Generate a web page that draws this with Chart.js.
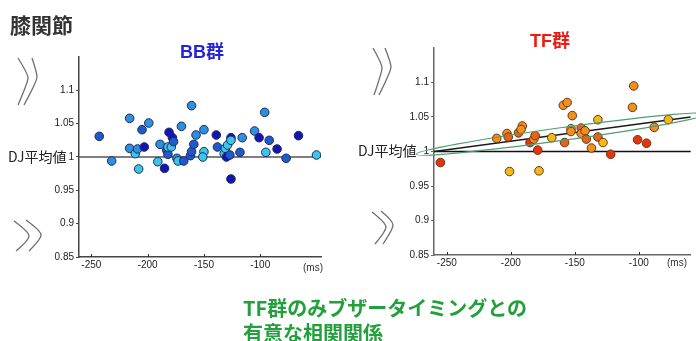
<!DOCTYPE html>
<html>
<head>
<meta charset="utf-8">
<script src="https://cdn.jsdelivr.net/npm/chart.js@4.4.1/dist/chart.umd.min.js"></script>
<style>
body{margin:0;background:#fff;width:696px;height:341px;overflow:hidden;position:relative;font-family:"Noto Sans CJK JP",sans-serif;}
canvas{position:absolute;}
.t{position:absolute;white-space:nowrap;line-height:1;}
.lat{font-family:"Liberation Sans","Noto Sans CJK JP",sans-serif;}
</style>
</head>
<body>
<canvas id="deco" width="696" height="341" style="left:0;top:0"></canvas>
<canvas id="bbCanvas" width="330" height="240" style="left:0;top:40px"></canvas>
<canvas id="tfCanvas" width="356" height="250" style="left:340px;top:30px"></canvas>

<div class="t" style="left:10px;top:14px;font-size:21px;font-weight:bold;color:#333">膝関節</div>
<div class="t lat" style="left:180px;top:43px;font-size:18px;font-weight:bold;color:#2424d8">BB群</div>
<div class="t lat" style="left:530px;top:32px;font-size:18px;font-weight:bold;color:#ee1a12">TF群</div>
<div class="t" style="left:8px;top:149px;font-size:14px;color:#222">DJ平均値</div>
<div class="t" style="left:358px;top:143px;font-size:14px;color:#222">DJ平均値</div>
<div class="t lat" style="left:303px;top:263px;font-size:10px;color:#333">(ms)</div>
<div class="t lat" style="left:667px;top:258px;font-size:10px;color:#333">(ms)</div>
<div class="t" style="left:243px;top:295px;font-size:20px;line-height:25px;font-weight:bold;color:#22a03c">TF群のみブザータイミングとの<br>有意な相関関係</div>

<script>
// BB群 (ms, DJ平均値)
var bbX = [-243,-232,-216,-216,-211,-209,-208,-205,-203,-199,-191,-189,-185,-183,-182,-182,-181,-179,-178,-177,-174,-173,-170,-168,-162,-161,-161,-159,-157,-150,-150,-151,-139,-138,-132,-131,-130,-129,-127,-126,-126,-126,-118,-116,-105,-101,-96,-95,-92,-85,-77,-66,-50];
var bbY = [1.031,0.994,1.058,1.013,1.005,1.012,0.982,1.041,1.015,1.051,0.993,1.019,0.983,1.010,1.004,1.015,1.037,1.015,1.029,1.023,0.998,0.994,1.046,0.994,1.002,1.008,1.077,1.019,1.033,1.041,1.008,1.000,1.033,1.015,1.005,1.013,1.000,1.018,1.003,1.029,1.025,0.967,1.007,1.029,1.039,1.029,1.067,1.007,1.025,1.012,0.998,1.032,1.003];

// TF群
var tfX = [-255,-211,-203,-202,-201,-194,-191,-192,-185,-182,-181,-179,-178,-168,-159,-156,-158,-152,-153,-153,-145,-145,-142,-141,-137,-132,-132,-128,-122,-104,-105,-101,-94,-88,-77];
var tfY = [0.984,1.019,1.026,1.021,0.971,1.027,1.037,1.032,1.013,1.018,1.023,1.002,0.972,1.020,1.067,1.071,1.013,1.052,1.033,1.029,1.034,1.026,1.030,1.018,1.005,1.046,1.021,1.013,0.996,1.095,1.064,1.017,1.012,1.035,1.046];

// TF regression line and its ellipse (tips + half width, in data units)
var tfFitX = [-260, -59.5];
var tfFitY = [1.0, 1.05];
var tfEllTips = [[-274, 0.996], [-47, 1.0545]];
var tfEllHalf = 0.0093;

var xTicks = [-250, -200, -150, -100];
var yTicks = [0.85, 0.9, 0.95, 1, 1.05, 1.1];
var yTickLabels = ['0.85', '0.9', '0.95', '1', '1.05', '1.1'];

// point shades (style only)
var bbShade = ['m','l','l','l','c','l','c','m','d','l','c','l','d','m','m','c','d','c','d','m','l','c','l','m','m','m','l','m','l','l','c','c','d','m','c','c','d','c','m','d','c','d','m','l','l','d','l','c','m','d','m','d','c'];
var tfShade = ['r','o','o','ro','y','ro','o','o','r','o','ro','r','y','y','o','o','ro','o','y','o','ro','o','o','ro','o','y','ro','y','r','o','o','r','r','o','y'];
var bbPal = {d: '#1414b2', m: '#1f5acc', l: '#2d8fde', c: '#3cc6e6'};
var tfPal = {r: '#e5340e', ro: '#e8621a', o: '#ef9120', y: '#f2ba18'};

function pts(xs, ys) {
	var out = [];
	for (var i in xs) out.push({x: xs[i], y: ys[i]});
	return out;
}

var extras = {
	id: 'extras',
	beforeDatasetsDraw: function(chart, args, opts) {
		var ctx = chart.ctx, xs = chart.scales.x, ys = chart.scales.y, a = chart.chartArea;
		ctx.save();
		var py = ys.getPixelForValue(1);
		ctx.strokeStyle = opts.refColor;
		ctx.lineWidth = 1.3;
		ctx.beginPath();
		ctx.moveTo(a.left, py);
		ctx.lineTo(a.right, py);
		ctx.stroke();

		// small tick marks pointing inward
		ctx.strokeStyle = '#333';
		ctx.lineWidth = 1;
		xTicks.forEach(function(v) {
			var px = Math.round(xs.getPixelForValue(v)) + 0.5;
			ctx.beginPath();
			ctx.moveTo(px, a.bottom);
			ctx.lineTo(px, a.bottom - 3);
			ctx.stroke();
		});
		ctx.restore();
	},
	afterDatasetsDraw: function(chart, args, opts) {
		if (!opts.ellipse) return;
		var ctx = chart.ctx, xs = chart.scales.x, ys = chart.scales.y;
		var p1x = xs.getPixelForValue(tfEllTips[0][0]), p1y = ys.getPixelForValue(tfEllTips[0][1]);
		var p2x = xs.getPixelForValue(tfEllTips[1][0]), p2y = ys.getPixelForValue(tfEllTips[1][1]);
		var rx = Math.hypot(p2x - p1x, p2y - p1y) / 2;
		var ry = Math.abs(ys.getPixelForValue(1) - ys.getPixelForValue(1 + tfEllHalf));
		ctx.save();
		ctx.strokeStyle = '#4f9e6e';
		ctx.lineWidth = 1.2;
		ctx.beginPath();
		ctx.ellipse((p1x + p2x) / 2, (p1y + p2y) / 2, rx, ry, Math.atan2(p2y - p1y, p2x - p1x), 0, Math.PI * 2);
		ctx.stroke();
		ctx.restore();
	}
};

function axes(xMin, xMax, axisColor, yWidth, xHeight) {
	return {
		x: {
			type: 'linear', min: xMin, max: xMax,
			afterBuildTicks: function(s) { s.ticks = xTicks.map(function(v) { return {value: v}; }); },
			afterFit: function(s) { s.height = xHeight; },
			grid: {display: false, drawTicks: false},
			border: {color: axisColor, width: 1.5},
			ticks: {color: '#222', font: {family: 'Liberation Sans', size: 10}, padding: 2, maxRotation: 0, autoSkip: false,
				callback: function(v) { return String(v); }}
		},
		y: {
			type: 'linear', min: 0.85, max: 1.15,
			afterBuildTicks: function(s) { s.ticks = yTicks.map(function(v) { return {value: v}; }); },
			afterFit: function(s) { s.width = yWidth; },
			grid: {display: true, drawOnChartArea: false, tickLength: 3, color: axisColor},
			border: {color: axisColor, width: 1.5},
			ticks: {color: '#222', font: {family: 'Liberation Sans', size: 10}, padding: 2, autoSkip: false,
				callback: function(v, i) { return yTickLabels[i]; }}
		}
	};
}

var bbChart = new Chart(document.getElementById('bbCanvas'), {
	type: 'scatter',
	data: {
		datasets: [{
			label: 'BB群',
			data: pts(bbX, bbY),
			pointRadius: 4.3,
			pointBorderWidth: 1,
			pointBackgroundColor: bbShade.map(function(s) { return bbPal[s]; }),
			pointBorderColor: '#1c2a5e'
		}]
	},
	options: {
		responsive: false, animation: false, devicePixelRatio: 1,
		layout: {padding: {top: 17, right: 9, bottom: 0, left: 0}},
		scales: axes(-261, -46, '#444', 79, 23),
		plugins: {legend: {display: false}, tooltip: {enabled: false}, extras: {refColor: '#555', ellipse: false}}
	},
	plugins: [extras]
});

var tfChart = new Chart(document.getElementById('tfCanvas'), {
	type: 'scatter',
	data: {
		datasets: [{
			label: 'TF群',
			data: pts(tfX, tfY),
			order: 0,
			pointRadius: 4.3,
			pointBorderWidth: 1,
			pointBackgroundColor: tfShade.map(function(s) { return tfPal[s]; }),
			pointBorderColor: '#6a3410'
		}, {
			label: 'fit',
			data: pts(tfFitX, tfFitY),
			order: 1,
			showLine: true,
			borderColor: '#1a1a1a',
			borderWidth: 1.3,
			pointRadius: 0
		}]
	},
	options: {
		responsive: false, animation: false, devicePixelRatio: 1,
		layout: {padding: {top: 18, right: 0, bottom: 0, left: 0}},
		scales: axes(-260, -59.5, '#666', 94, 25),
		plugins: {legend: {display: false}, tooltip: {enabled: false}, extras: {refColor: '#111', ellipse: true}}
	},
	plugins: [extras]
});

// knee icons
var dc = document.getElementById('deco').getContext('2d');
dc.strokeStyle = '#6e6e6e';
dc.lineWidth = 1.3;
dc.lineJoin = 'round';
var icons = [
	[[18,58],[28,78],[18,105]], [[32,58],[37,77],[24,105]],
	[[14,221],[29,236],[16,251]], [[26,220],[41,235],[29,251]],
	[[373,48],[382,68],[374,95]], [[385,48],[391,67],[379,95]],
	[[372,212],[386,227],[375,244]], [[381,211],[393,225],[383,244]]
];
icons.forEach(function(p) {
	dc.beginPath();
	dc.moveTo(p[0][0], p[0][1]);
	dc.quadraticCurveTo(p[1][0], p[1][1] - 4, p[1][0], p[1][1]);
	dc.quadraticCurveTo(p[1][0], p[1][1] + 4, p[2][0], p[2][1]);
	dc.stroke();
});
</script>
</body>
</html>
